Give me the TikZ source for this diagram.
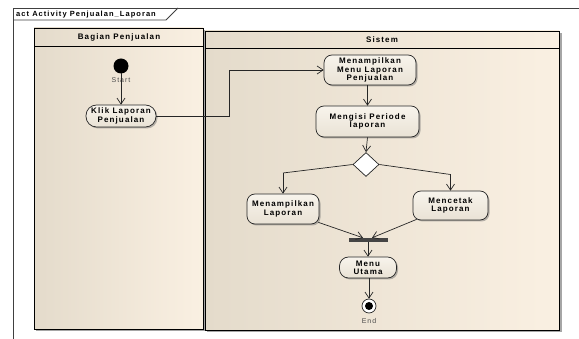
\documentclass[tikz,border=0pt]{standalone}
\usepackage{fontspec}
\setmainfont{Liberation Sans}
\newfontfamily\diagfont[LetterSpace=14]{Liberation Sans}
\usetikzlibrary{arrows.meta,shapes.geometric,shadows}
\definecolor{lanetan}{HTML}{E4DBCB}
\definecolor{lanecream}{HTML}{FAF0E2}
\definecolor{acttop}{HTML}{F8F4EC}
\definecolor{actbot}{HTML}{E9E2D5}
\definecolor{framegray}{HTML}{404040}
\definecolor{barfill}{HTML}{454545}
\tikzset{
  every picture/.style={x=1pt,y=-1pt},
  lbl/.style={font=\diagfont\fontsize{8}{8.3}\selectfont\bfseries, align=center},
  small/.style={font=\diagfont\fontsize{7}{7.5}\selectfont, text=black!70},
  lanebody/.style={draw=black, line width=0.8pt, left color=lanetan, middle color=lanecream, right color=lanecream},
  laneshadow/.style={fill=black!35, draw=none},
  action/.style={lbl, draw=black!85, line width=0.7pt, rounded corners=8pt, inner sep=0pt,
    top color=acttop, bottom color=actbot,
    drop shadow={shadow xshift=1.5pt, shadow yshift=-1.5pt, opacity=0.45, fill=black!60}},
  flow/.style={draw=black!85, line width=0.7pt, -{Straight Barb[length=6pt,width=8pt]}},
  plain/.style={draw=black!85, line width=0.7pt},
}
\begin{document}
\begin{tikzpicture}
\useasboundingbox (0,0) rectangle (579,339);
\fill[white] (0,0) rectangle (579,339);

% diagram frame and its name tab
\draw[framegray, line width=0.8pt] (579,8) -- (13,8) -- (13,339);
\draw[framegray, line width=0.8pt] (13,20) -- (166,20) -- (178,8);
\node[anchor=west, font=\diagfont\fontsize{7.5}{8}\selectfont\bfseries, inner sep=0pt] (title) at (16,14.5) {act Activity Penjualan\_Laporan};

% swimlane shadows
\fill[laneshadow] (36,30) rectangle (205.5,331.5);
\fill[laneshadow] (207,33) rectangle (561.5,332.5);

% swimlane: Bagian Penjualan
\path[lanebody] (34,28) rectangle (203,329);
\draw[black, line width=0.8pt] (34,46) -- (203,46);
\node[lbl] (lane1) at (119,37) {Bagian Penjualan};

% swimlane: Sistem
\path[lanebody] (205,31) rectangle (559,330);
\draw[black, line width=0.8pt] (205,48) -- (559,48);
\node[lbl] (lane2) at (382,39.5) {Sistem};

% start
\fill[black] (121,66) circle (7.5);
\coordinate (start) at (121,73.5);
\node[small] (startlbl) at (121,80) {Start};

% actions
\node[action, rounded corners=10.5pt, minimum width=70pt, minimum height=22pt] (klik) at (121,116) {Klik Laporan\\Penjualan};
\node[action, minimum width=92pt, minimum height=30pt] (menu) at (370,70) {Menampilkan\\Menu Laporan\\Penjualan};
\node[action, minimum width=103pt, minimum height=31pt] (isi) at (367.5,121.5) {Mengisi Periode\\laporan};
\node[draw=black!85, line width=0.7pt, fill=white, diamond, minimum width=26pt, minimum height=24pt, inner sep=0pt] (dec) at (366,164.5) {};
\node[action, minimum width=72pt, minimum height=30pt] (lap) at (283,209) {Menampilkan\\Laporan};
\node[action, minimum width=75pt, minimum height=29pt] (cetak) at (450.5,205.5) {Mencetak\\Laporan};
\node[fill=barfill, minimum width=39pt, minimum height=4pt, inner sep=0pt] (bar) at (368,240) {};
\node[action, rounded corners=9pt, minimum width=57pt, minimum height=21pt] (utama) at (368,267.5) {Menu\\Utama};

% end
\node[circle, draw=black!85, line width=0.7pt, fill=white, minimum size=14pt, inner sep=0pt] (end) at (369,306) {};
\fill[black] (end.center) circle (4);
\node[small] (endlbl) at (369,321) {End};

% bend points
\coordinate (bend) at (229,70);
\coordinate (lb) at (283,173);
\coordinate (rb) at (450.5,174.5);

% flows
\draw[flow] (start) -- (klik.north);
\draw[flow] (klik.east) -| (bend) -- (menu.west);
\draw[flow] (menu.south -| isi.north) -- (isi.north);
\draw[flow] (isi.south) -- (dec.north);
\draw[plain] (dec.west) -- (lb);
\draw[flow] (lb) -- (lap.north);
\draw[plain] (dec.east) -- (rb);
\draw[flow] (rb) -- (cetak.north);
\draw[flow] ([xshift=-1pt,yshift=2pt]lap.south east) -- ([xshift=-5pt]bar.north);
\draw[flow] ([xshift=4pt,yshift=1pt]cetak.south west) -- ([xshift=4pt]bar.north);
\draw[flow] (bar.south) -- (utama.north);
\draw[flow] (utama.south -| end.north) -- (end.north);
\end{tikzpicture}
\end{document}
